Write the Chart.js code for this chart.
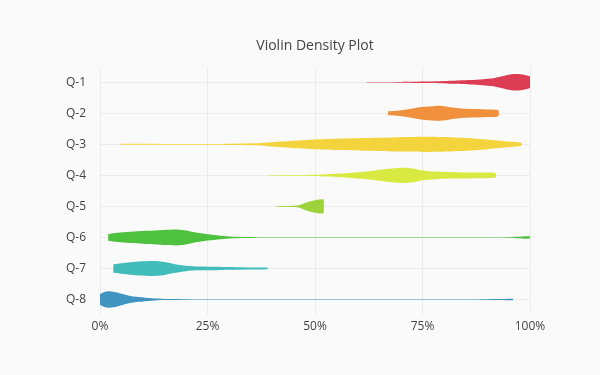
<!DOCTYPE html>
<html>
<head>
<meta charset="utf-8">
<script src="https://cdn.jsdelivr.net/npm/chart.js@4/dist/chart.umd.min.js"></script>
<style>
  html, body { margin: 0; padding: 0; background: #fafafa; }
  canvas { display: block; }
</style>
</head>
<body>
<canvas id="violinChart" width="600" height="375"></canvas>
<script>
// categories (top to bottom)
const questions = ['Q-1', 'Q-2', 'Q-3', 'Q-4', 'Q-5', 'Q-6', 'Q-7', 'Q-8'];
const colors = ['#dc3d52', '#f0903c', '#f3d43d', '#d8ea41', '#9cd33a', '#4ec13f', '#41bcbb', '#3f95bf'];

// score (%) positions along each violin and the density read at each one
const q1Score = [62, 70, 76, 82, 86, 89, 91.5, 93.5, 95, 96.5, 98, 99, 100];
const q1Density = [0.2, 0.35, 0.7, 1.5, 2.2, 3, 4, 6, 7.5, 8.3, 8, 7, 5.5];

const q2Score = [67, 69, 72, 75, 78, 80, 82, 84, 87, 90, 92.6];
const q2Density = [2, 2.5, 4.3, 6.5, 7.5, 7.2, 5.8, 4.8, 4.3, 3.8, 3];

const q3Score = [4.8, 15, 25, 32, 36, 39, 42, 46, 50, 55, 62, 70, 76, 81, 86, 90, 94, 98];
const q3Density = [0.5, 0.35, 0.35, 0.6, 1, 1.8, 2.8, 4, 5, 5.7, 6.4, 7.2, 7.6, 7.2, 6.2, 4.8, 3.2, 1.5];

const q4Score = [39, 45, 52, 56, 60, 64, 67, 70.5, 73, 75, 78, 82, 88, 92];
const q4Density = [0.25, 0.45, 1, 1.8, 3.2, 5, 6.6, 7.7, 6.8, 5, 3.8, 3.2, 2.8, 2.2];

const q5Score = [41, 45, 46.5, 48, 49.5, 51.5, 52];
const q5Density = [0.25, 0.6, 1.5, 4, 5.8, 7.2, 6.8];

const q6Score = [1.9, 4, 7, 11, 15, 18, 20, 22, 25, 28, 31, 40, 60, 80, 94, 97, 100];
const q6Density = [3.3, 4.6, 5.6, 6.6, 7.6, 8, 7, 5.2, 3.2, 1.8, 0.8, 0.3, 0.2, 0.2, 0.3, 0.7, 1.1];

const q7Score = [3.1, 6, 9, 12.4, 15, 17.5, 20, 23, 27, 30, 34, 39];
const q7Density = [4.3, 5.8, 7, 7.5, 6.5, 4.3, 2.7, 1.9, 1.7, 1.4, 1, 0.8];

const q8Score = [0, 1, 2.2, 4, 6.5, 9, 12, 15, 30, 60, 85, 93, 96];
const q8Density = [5.3, 7.5, 8.3, 7, 4, 2.4, 1.2, 0.6, 0.3, 0.2, 0.3, 0.5, 0.7];

const xTicks = [0, 25, 50, 75, 100];

const scores = [q1Score, q2Score, q3Score, q4Score, q5Score, q6Score, q7Score, q8Score];
const densities = [q1Density, q2Density, q3Density, q4Density, q5Density, q6Density, q7Density, q8Density];

const widthScale = 1 / 31.2; // density -> half width in row units

function violinPoints(score, density, row) {
  const pts = [];
  for (let i = 0; i < score.length; i++) {
    pts.push({ x: score[i], y: row - density[i] * widthScale });
  }
  for (let i = score.length - 1; i >= 0; i--) {
    pts.push({ x: score[i], y: row + density[i] * widthScale });
  }
  return pts;
}

const datasets = [];
for (let i = 0; i < questions.length; i++) {
  datasets.push({
    label: questions[i],
    data: violinPoints(scores[i], densities[i], i),
    backgroundColor: colors[i],
    borderColor: 'transparent',
    borderWidth: 0,
    pointRadius: 0,
    fill: 'shape',
    tension: 0.25,
  });
}

const font = 'Open Sans';

new Chart(document.querySelector('#violinChart'), {
  type: 'line',
  data: { datasets },
  options: {
    responsive: false,
    animation: false,
    layout: { padding: { left: 0, right: 70, top: 0, bottom: 29 } },
    plugins: {
      legend: { display: false },
      tooltip: { enabled: false },
      title: {
        display: true,
        text: 'Violin Density Plot',
        fullSize: false,
        color: '#444',
        font: { family: font, size: 14, weight: 'normal' },
        padding: { top: 38, bottom: 12 },
      },
    },
    scales: {
      x: {
        type: 'linear',
        min: 0,
        max: 100,
        afterBuildTicks: (axis) => { axis.ticks = xTicks.map(v => ({ value: v })); },
        afterFit: (axis) => { axis.height = 31; },
        grid: { color: '#ececec', drawTicks: false },
        border: { display: false },
        ticks: {
          color: '#444',
          padding: 4,
          font: { family: font, size: 12 },
          callback: (v) => v + '%',
        },
      },
      y: {
        type: 'linear',
        min: -0.5,
        max: 7.5,
        reverse: true,
        afterBuildTicks: (axis) => { axis.ticks = questions.map((q, i) => ({ value: i })); },
        afterFit: (axis) => { axis.width = 100; },
        grid: { color: '#ececec', drawTicks: false },
        border: { display: false },
        ticks: {
          color: '#444',
          padding: 14,
          font: { family: font, size: 12 },
          callback: (v) => questions[v],
        },
      },
    },
  },
});
</script>
</body>
</html>
